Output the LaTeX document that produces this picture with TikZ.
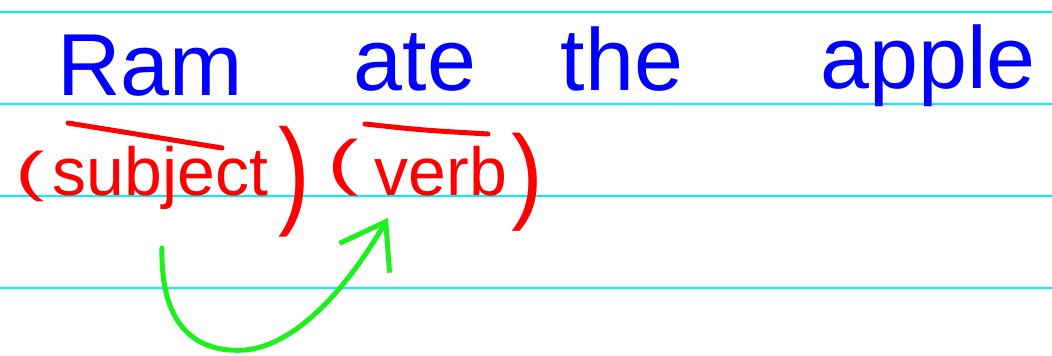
\documentclass[tikz,border=0pt]{standalone}
\usepackage{fontspec}
\usepackage{graphicx}
\setmainfont{Liberation Sans}
\usetikzlibrary{arrows.meta,calc}
\definecolor{RuleCyan}{RGB}{0,240,255}
\definecolor{InkBlue}{RGB}{0,0,255}
\definecolor{InkRed}{RGB}{255,0,0}
\definecolor{InkGreen}{RGB}{30,240,30}

\begin{document}
\begin{tikzpicture}[x=1pt, y=-1pt,
    word/.style={InkBlue, anchor=base, inner sep=0pt, font=\fontsize{88}{88}\selectfont},
    role/.style={InkRed, anchor=base west, inner sep=0pt, font=\fontsize{68}{68}\selectfont},
    bar/.style={InkRed, line width=5pt, line cap=round},
    link/.style={InkGreen, line width=5pt, line cap=round, -{Straight Barb[length=42pt,width=58pt]}}
  ]
  \useasboundingbox[fill=white] (0,0) rectangle (1052,356);
  % ruled lines of the page
  \foreach \y in {12,104,196,288}
    \draw[RuleCyan, line width=1.5pt] (0,\y) -- (1052,\y);

  % the sentence
  \node[word] (ram)   at (150,95) {Ram};
  \node[word] (ate)   at (415,90) {ate};
  \node[word] (the)   at (622,90) {the};
  \node[word] (apple) at (928,88) {apple};

  % roles under the words
  \node[role] (subj) at (15,195) {\raisebox{5pt}{\scalebox{1.3}[0.8]{(}}\hspace{8pt}subject\hspace{10pt}\raisebox{-17pt}{\scalebox{1.4}[1.75]{)}}};
  \node[role] (verb) at (327,195) {\raisebox{12pt}{\scalebox{1.4}[0.9]{(}}\hspace{16pt}verb\hspace{4pt}\raisebox{-14pt}{\scalebox{1.4}[1.55]{)}}};
  \draw[bar] (68,123) -- (222,148); % bar over subject
  \draw[bar] (365,124) .. controls (420,130) .. (488,134); % bar over verb

  % subject points to verb
  \coordinate (subjfoot) at (162,248);
  \coordinate (verbfoot) at (388,218);
  \draw[link] (subjfoot) .. controls (160,345) and (215,352) .. (245,350)
    .. controls (290,346) and (340,300) .. (verbfoot);
\end{tikzpicture}
\end{document}
